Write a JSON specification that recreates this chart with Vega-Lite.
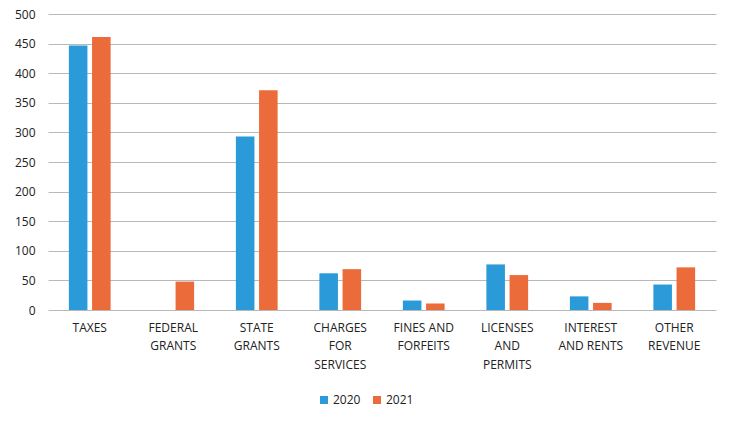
{
  "$schema": "https://vega.github.io/schema/vega-lite/v6.json",
  "width": 668,
  "height": 296,
  "autosize": {"type": "none"},
  "padding": {"left": 48, "top": 14, "right": 13, "bottom": 112},
  "background": "#ffffff",
  "data": {
    "values": [
      {"category": "TAXES", "year": "2020", "value": 447},
      {"category": "TAXES", "year": "2021", "value": 461},
      {"category": "FEDERAL GRANTS", "year": "2020", "value": 0},
      {"category": "FEDERAL GRANTS", "year": "2021", "value": 48},
      {"category": "STATE GRANTS", "year": "2020", "value": 293},
      {"category": "STATE GRANTS", "year": "2021", "value": 371},
      {"category": "CHARGES FOR SERVICES", "year": "2020", "value": 62},
      {"category": "CHARGES FOR SERVICES", "year": "2021", "value": 69},
      {"category": "FINES AND FORFEITS", "year": "2020", "value": 16},
      {"category": "FINES AND FORFEITS", "year": "2021", "value": 11},
      {"category": "LICENSES AND PERMITS", "year": "2020", "value": 77},
      {"category": "LICENSES AND PERMITS", "year": "2021", "value": 59},
      {"category": "INTEREST AND RENTS", "year": "2020", "value": 23},
      {"category": "INTEREST AND RENTS", "year": "2021", "value": 12},
      {"category": "OTHER REVENUE", "year": "2020", "value": 43},
      {"category": "OTHER REVENUE", "year": "2021", "value": 72}
    ]
  },
  "mark": {"type": "bar"},
  "encoding": {
    "x": {
      "field": "category",
      "type": "nominal",
      "sort": null,
      "scale": {"paddingInner": 0.5, "paddingOuter": 0.25},
      "axis": {
        "title": null,
        "labelAngle": 0,
        "domain": false,
        "ticks": false,
        "labelPadding": 12,
        "labelBaseline": "top",
        "labelLineHeight": 18.5,
        "labelFont": "Open Sans",
        "labelFontSize": 12,
        "labelColor": "#222222",
        "labelExpr": "datum.value == 'FEDERAL GRANTS' ? ['FEDERAL','GRANTS'] : datum.value == 'STATE GRANTS' ? ['STATE','GRANTS'] : datum.value == 'CHARGES FOR SERVICES' ? ['CHARGES','FOR','SERVICES'] : datum.value == 'FINES AND FORFEITS' ? ['FINES AND','FORFEITS'] : datum.value == 'LICENSES AND PERMITS' ? ['LICENSES','AND','PERMITS'] : datum.value == 'INTEREST AND RENTS' ? ['INTEREST','AND RENTS'] : datum.value == 'OTHER REVENUE' ? ['OTHER','REVENUE'] : datum.value"
      }
    },
    "xOffset": {
      "field": "year",
      "type": "nominal",
      "scale": {"paddingInner": 0.2}
    },
    "y": {
      "field": "value",
      "type": "quantitative",
      "scale": {"domain": [0, 500]},
      "axis": {
        "title": null,
        "values": [0, 50, 100, 150, 200, 250, 300, 350, 400, 450, 500],
        "domain": false,
        "ticks": false,
        "labelPadding": 13,
        "labelFont": "Open Sans",
        "labelFontSize": 12,
        "labelColor": "#222222",
        "gridColor": "#b8b8b8",
        "gridWidth": 1
      }
    },
    "color": {
      "field": "year",
      "type": "nominal",
      "scale": {"domain": ["2020", "2021"], "range": ["#2a9ad8", "#ec6b3a"]},
      "legend": {
        "title": null,
        "orient": "none",
        "direction": "horizontal",
        "legendX": 270,
        "legendY": 380,
        "symbolType": "square",
        "symbolSize": 64,
        "symbolStrokeWidth": 0,
        "labelFont": "Open Sans",
        "labelFontSize": 12,
        "labelColor": "#222222",
        "columnPadding": 10,
        "labelOffset": 3
      }
    }
  },
  "config": {"view": {"stroke": null}}
}
